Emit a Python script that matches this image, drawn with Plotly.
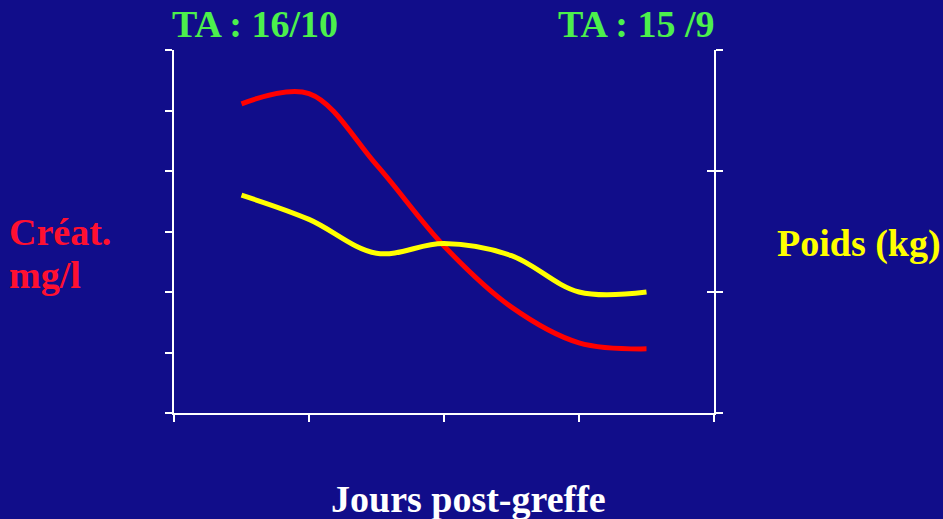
import plotly.graph_objects as go

# Days after transplant (x axis, unlabeled ticks every 2 days)
days = [1, 2, 3, 4, 5, 6, 7]
# Serum creatinine (mg/l), left axis
creatinine = [51.1, 52.8, 41.0, 27.6, 17.5, 11.6, 10.6]
# Body weight (kg), right axis
weight = [69.0, 68.0, 66.6, 67.0, 66.5, 65.0, 65.0]

BG = "#110D8A"
FONT = "Liberation Serif, Times New Roman, serif"

fig = go.Figure()
fig.add_trace(go.Scatter(
    x=days, y=creatinine, mode="lines", yaxis="y",
    line=dict(color="#FF0000", width=5, shape="spline", smoothing=1.0),
    showlegend=False, hoverinfo="skip",
))
fig.add_trace(go.Scatter(
    x=days, y=weight, mode="lines", yaxis="y2",
    line=dict(color="#FFFF00", width=5, shape="spline", smoothing=1.0),
    showlegend=False, hoverinfo="skip",
))
# empty trace so the inner tick marks of the right axis are drawn
fig.add_trace(go.Scatter(x=[None], y=[None], yaxis="y3", showlegend=False,
                         hoverinfo="skip"))

axis_common = dict(
    showgrid=False, zeroline=False, showticklabels=False,
    linecolor="white", linewidth=2, tickcolor="white", tickwidth=2,
)

fig.update_layout(
    width=943, height=519,
    margin=dict(l=174, r=229, t=50, b=106),
    paper_bgcolor=BG, plot_bgcolor=BG,
    font=dict(family=FONT, color="white"),
    xaxis=dict(range=[0, 8], dtick=2, tick0=0, ticks="outside", ticklen=7,
               showline=True, **axis_common),
    yaxis=dict(range=[0, 60], dtick=10, tick0=0, ticks="outside", ticklen=7,
               showline=True, **axis_common),
    yaxis2=dict(range=[60, 75], dtick=5, tick0=60, ticks="outside", ticklen=7,
                showline=True, overlaying="y", side="right", anchor="x",
                **axis_common),
    yaxis3=dict(range=[60, 75], dtick=5, tick0=60, ticks="inside", ticklen=7,
                showline=False, overlaying="y", side="right", anchor="x",
                **axis_common),
)

def label(text, x, y, color, xanchor="center"):
    fig.add_annotation(
        text=f"<b>{text}</b>", x=x, y=y, xref="paper", yref="paper",
        xanchor=xanchor, yanchor="middle", showarrow=False,
        font=dict(family=FONT, size=38, color=color),
    )

label("TA : 16/10", 0.150, 1.072, "#4CF04C")
label("TA : 15 /9", 0.856, 1.072, "#4CF04C")
label("Créat.", -0.309, 0.499, "#FF1030", xanchor="left")
label("mg/l", -0.309, 0.380, "#FF1030", xanchor="left")
label("Poids (kg)", 1.1125, 0.466, "#FFFF00", xanchor="left")
label("Jours post-greffe", 0.546, -0.238, "white")

fig.write_html("out.html")
